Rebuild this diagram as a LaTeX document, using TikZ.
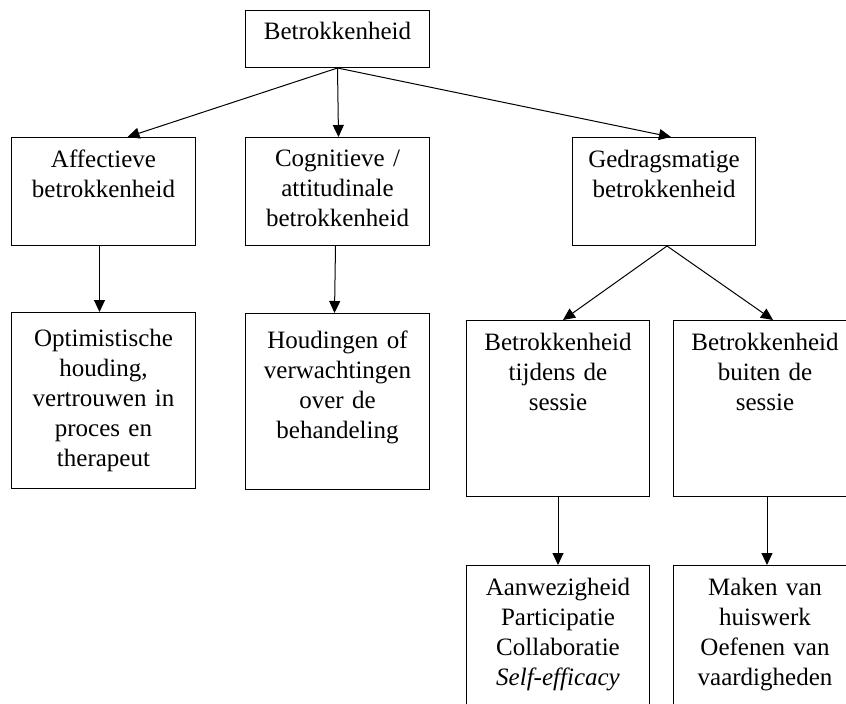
\documentclass[tikz,border=0pt]{standalone}
\usepackage{fontspec}
\setmainfont{Liberation Serif}
\usetikzlibrary{arrows.meta}

\tikzset{
  box/.style 2 args={draw, line width=1pt, inner sep=0pt, anchor=north west,
    minimum width=#1, minimum height=#2},
  boxtext/.style={anchor=north, align=center, text width=178pt, inner sep=0pt,
    font=\fontsize{25}{30}\selectfont},
  link/.style={line width=1pt, -{Triangle[length=12pt,width=11pt]}},
}

\begin{document}
\begin{tikzpicture}[x=1pt,y=-1pt]
    \useasboundingbox (0,0) rectangle (846,704);
    \clip (0,0) rectangle (846,704); % boxes at the right and bottom run off the page

    % top
    \node[box={184pt}{57pt}] (top) at (245,10) {};
    \node[boxtext] (top-t) at ([yshift=-12pt]top.north) {Betrokkenheid};

    % second row
    \node[box={184pt}{108pt}] (aff) at (11,137) {};
    \node[box={184pt}{108pt}] (cog) at (245,137) {};
    \node[box={183pt}{108pt}] (ged) at (572,137) {};
    \node[boxtext] (aff-t) at ([yshift=-13pt]aff.north) {Affectieve\\betrokkenheid};
    \node[boxtext] (cog-t) at ([yshift=-13pt]cog.north) {Cognitieve /\\attitudinale\\betrokkenheid};
    \node[boxtext] (ged-t) at ([yshift=-13pt]ged.north) {Gedragsmatige\\betrokkenheid};

    % third row
    \node[box={184pt}{176pt}] (opt) at (11,312) {};
    \node[box={184pt}{176pt}] (houd) at (245,313) {};
    \node[box={183pt}{176pt}] (tijd) at (466,320) {};
    \node[box={183pt}{176pt}] (buit) at (673,320) {};
    \node[boxtext] (opt-t) at ([yshift=-17pt]opt.north)
        {Optimistische\\houding,\\vertrouwen in\\proces en\\therapeut};
    \node[boxtext] (houd-t) at ([yshift=-18pt]houd.north)
        {Houdingen of\\verwachtingen\\over de\\behandeling};
    \node[boxtext] (tijd-t) at ([yshift=-13pt]tijd.north) {Betrokkenheid\\tijdens de\\sessie};
    \node[boxtext] (buit-t) at ([yshift=-13pt]buit.north) {Betrokkenheid\\buiten de\\sessie};

    % bottom row
    \node[box={183pt}{160pt}] (aanw) at (466,565) {};
    \node[box={183pt}{160pt}] (maak) at (673,565) {};
    \node[boxtext] (aanw-t) at ([yshift=-13pt]aanw.north)
        {Aanwezigheid\\Participatie\\Collaboratie\\\textit{Self-efficacy}};
    \node[boxtext] (maak-t) at ([yshift=-13pt]maak.north)
        {Maken van\\huiswerk\\Oefenen van\\vaardigheden};

    % arrows
    \draw[link] (top.south) -- ([xshift=24pt]aff.north);
    \draw[link] (top.south) -- ([xshift=1pt]cog.north);
    \draw[link] (top.south) -- ([xshift=7pt]ged.north);
    \draw[link] ([xshift=-4pt]aff.south) -- ([xshift=-4pt]opt.north);
    \draw[link] ([xshift=-2pt]cog.south) -- ([xshift=-3pt]houd.north);
    \draw[link] ([xshift=3pt]ged.south) -- ([xshift=5pt]tijd.north);
    \draw[link] ([xshift=3pt]ged.south) -- ([xshift=8pt]buit.north);
    \draw[link] (tijd.south) -- (aanw.north);
    \draw[link] ([xshift=2pt]buit.south) -- ([xshift=2pt]maak.north);
\end{tikzpicture}
\end{document}
